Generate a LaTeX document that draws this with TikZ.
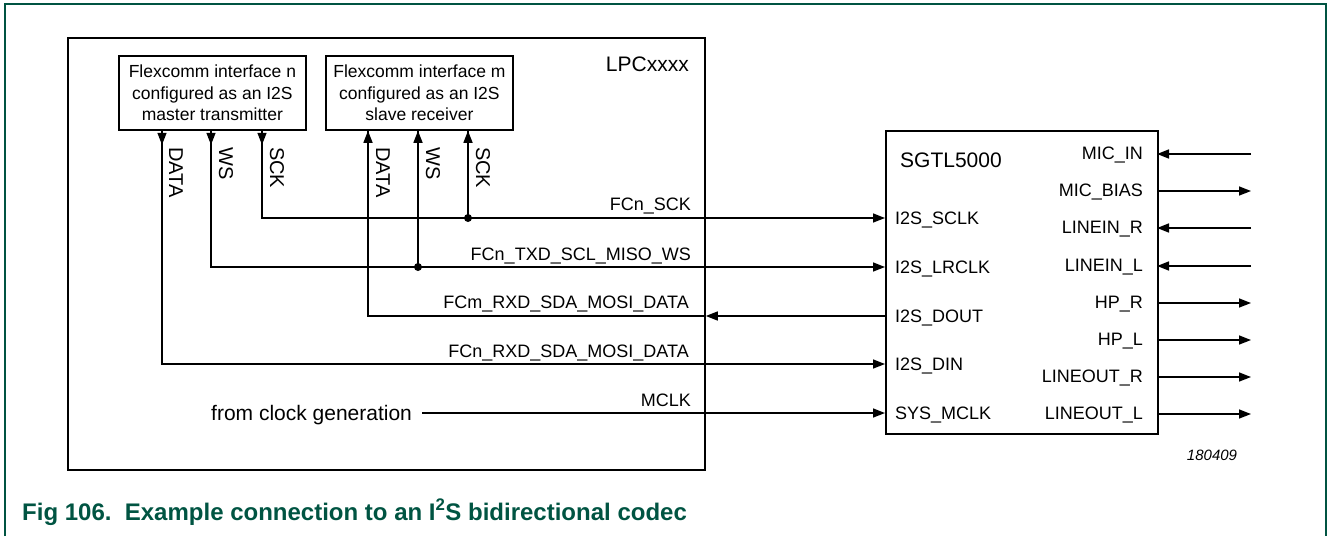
\documentclass[tikz,border=0pt]{standalone}
\usepackage{fontspec}
\setmainfont{Liberation Sans}
\usetikzlibrary{arrows.meta,calc}
\definecolor{nxpgreen}{RGB}{0,84,66}
\begin{document}
\begin{tikzpicture}[x=1pt,y=-1pt,
  wire/.style={line width=1.5pt, draw=black},
  arr/.style={wire,-{Triangle[length=12pt,width=9pt]}},
  box/.style={draw, line width=1.8pt, inner sep=0pt},
  lbl/.style={font=\fontsize{18}{21}\selectfont, inner sep=0pt},
  big/.style={font=\fontsize{21}{24}\selectfont, inner sep=0pt},
  vlbl/.style={font=\fontsize{20}{22}\selectfont, inner sep=0pt, rotate=-90, anchor=base west},
  dot/.style={circle, fill=black, inner sep=0pt, minimum size=8pt},
]
\useasboundingbox (0,0) rectangle (1327,536);

% frame
\draw[nxpgreen, line width=2pt] (5,536) -- (5,4) -- (1325.5,4) -- (1325.5,536);

% boxes
\node[box, minimum width=637pt, minimum height=432pt, anchor=north west] (lpc) at (67,37) {};
\node[big, anchor=east] (lpcname) at (689,64) {LPCxxxx};
\node[box, minimum width=187pt, minimum height=74pt, anchor=north west, align=center,
      font=\fontsize{17.5}{21.7}\selectfont] (fcn) at (118,55)
      {Flexcomm interface n\\configured as an I2S\\master transmitter};
\node[box, minimum width=187pt, minimum height=74pt, anchor=north west, align=center,
      font=\fontsize{17.5}{21.7}\selectfont] (fcm) at (325,55)
      {Flexcomm interface m\\configured as an I2S\\slave receiver};
\node[box, minimum width=272pt, minimum height=303pt, anchor=north west] (codec) at (885,130) {};
\node[big, anchor=west] (cname) at (900,160) {SGTL5000};

% columns
\coordinate (cnD) at (162,0);
\coordinate (cnW) at (211,0);
\coordinate (cnS) at (262,0);
\coordinate (cmD) at (368,0);
\coordinate (cmW) at (418,0);
\coordinate (cmS) at (468,0);

% vertical labels
\node[vlbl] (tnD) at (169,147) {DATA};
\node[vlbl] (tnW) at (219,147) {WS};
\node[vlbl] (tnS) at (270,147) {SCK};
\node[vlbl] (tmD) at (376,147) {DATA};
\node[vlbl] (tmW) at (426,147) {WS};
\node[vlbl] (tmS) at (476,147) {SCK};

% codec left pins
\coordinate (p-sclk) at (885,218);
\coordinate (p-lrclk) at (885,267);
\coordinate (p-dout) at (885,316);
\coordinate (p-din) at (885,364);
\coordinate (p-mclk) at (885,413);
\node[lbl, anchor=west] (l-sclk) at (895,219.5) {I2S\_SCLK};
\node[lbl, anchor=west] (l-lrclk) at (895,268.5) {I2S\_LRCLK};
\node[lbl, anchor=west] (l-dout) at (895,317.5) {I2S\_DOUT};
\node[lbl, anchor=west] (l-din) at (895,365.5) {I2S\_DIN};
\node[lbl, anchor=west] (l-mclk) at (895,414.5) {SYS\_MCLK};

% codec right pins
\foreach \n/\y/\t in {micin/154/MIC\_IN, micbias/191/MIC\_BIAS, lineinr/228/LINEIN\_R,
   lineinl/266/LINEIN\_L, hpr/303/HP\_R, hpl/340/HP\_L, lineoutr/377/LINEOUT\_R, lineoutl/414/LINEOUT\_L}{
  \coordinate (r-\n) at (1157,\y);
  \coordinate (o-\n) at (1251,\y);
  \node[lbl, anchor=east] (t-\n) at (1143,\y+1) {\t};
}
\draw[arr] (o-micin) -- (r-micin);
\draw[arr] (r-micbias) -- (o-micbias);
\draw[arr] (o-lineinr) -- (r-lineinr);
\draw[arr] (o-lineinl) -- (r-lineinl);
\draw[arr] (r-hpr) -- (o-hpr);
\draw[arr] (r-hpl) -- (o-hpl);
\draw[arr] (r-lineoutr) -- (o-lineoutr);
\draw[arr] (r-lineoutl) -- (o-lineoutl);

% signal names
\node[lbl, anchor=base east] (s-sck) at (691,210) {FCn\_SCK};
\node[lbl, anchor=base east] (s-ws) at (691,260) {FCn\_TXD\_SCL\_MISO\_WS};
\node[lbl, anchor=base east] (s-dout) at (689,308) {FCm\_RXD\_SDA\_MOSI\_DATA};
\node[lbl, anchor=base east] (s-din) at (689,357) {FCn\_RXD\_SDA\_MOSI\_DATA};
\node[lbl, anchor=base east] (s-mclk) at (691,406) {MCLK};

% junctions
\node[dot] (jS) at (cmS |- p-sclk) {};
\node[dot] (jW) at (cmW |- p-lrclk) {};

% SCK
\draw[arr] (fcn.south -| cnS) |- (p-sclk);
\draw[arr] (fcn.south -| cnS) -- ++(0,14);
\draw[wire] (jS.center) -- (fcm.south -| cmS);
\draw[arr] ($(fcm.south -| cmS)+(0,14)$) -- (fcm.south -| cmS);

% WS
\draw[arr] (fcn.south -| cnW) |- (p-lrclk);
\draw[arr] (fcn.south -| cnW) -- ++(0,14);
\draw[wire] (jW.center) -- (fcm.south -| cmW);
\draw[arr] ($(fcm.south -| cmW)+(0,14)$) -- (fcm.south -| cmW);

% DOUT
\draw[arr] (p-dout) -- (lpc.east |- p-dout);
\draw[wire] (lpc.east |- p-dout) -| (fcm.south -| cmD);
\draw[arr] ($(fcm.south -| cmD)+(0,14)$) -- (fcm.south -| cmD);

% DIN
\draw[arr] (fcn.south -| cnD) |- (p-din);
\draw[arr] (fcn.south -| cnD) -- ++(0,14);

% MCLK
\node[big, anchor=base west] (clk) at (211,420) {from clock generation};
\draw[arr] (clk.east |- p-mclk) ++(10,0) -- (p-mclk);

% figure id
\node[font=\itshape\fontsize{15}{18}\selectfont, inner sep=0pt] (fid) at (1212,455) {180409};

% caption
\node[anchor=base west, font=\bfseries\fontsize{24}{27}\selectfont, text=nxpgreen, inner sep=0pt] (cap)
  at (22,520) {Fig 106.\ \ Example connection to an I\textsuperscript{2}S bidirectional codec};
\end{tikzpicture}
\end{document}
